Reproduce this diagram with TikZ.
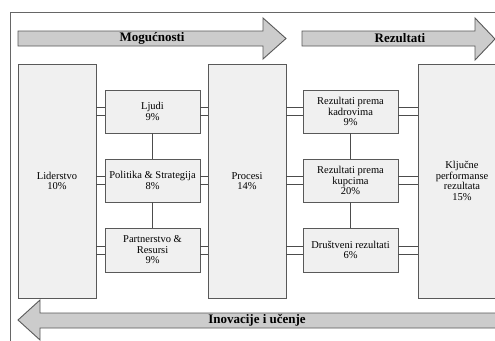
\documentclass[tikz,border=0pt]{standalone}
\usepackage{fontspec}
\setmainfont{Liberation Serif}
\usetikzlibrary{calc}
\begin{document}
\begin{tikzpicture}[x=1pt,y=-1pt,
  box/.style={draw=black!65,line width=0.9pt,fill=black!6,inner sep=0pt,
    font=\fontsize{10.5}{10.5}\selectfont,align=center},
  band/.style={draw=black!65,line width=0.9pt,fill=black!20},
  bandtext/.style={font=\fontsize{13}{15}\selectfont\bfseries},
  pipe/.style={draw=black!70,line width=0.8pt},
  link/.style={draw=black!70,line width=0.8pt}]
\useasboundingbox (0,0) rectangle (495,340);
\clip (0,0) rectangle (495,340);
\fill[white] (0,0) rectangle (495,340);

% outer frame
\draw[draw=black!60,line width=0.8pt] (10,350) -- (10,12) -- (510,12);

% top bands
\draw[band] (18,31) -- (263,31) -- (263,18) -- (286,38.5) -- (263,59) -- (263,46) -- (18,46) -- cycle;
\node[bandtext] (mog) at (152,38) {Mogućnosti};
\draw[band] (302,31) -- (475,31) -- (475,18) -- (495,39) -- (475,60) -- (475,46) -- (302,46) -- cycle;
\node[bandtext] (rez) at (400,38) {Rezultati};

% bottom band
\draw[band] (18,320) -- (40,300) -- (40,313) -- (510,313) -- (510,328) -- (40,328) -- (40,340) -- cycle;
\node[bandtext] (ino) at (257,320) {Inovacije i učenje};

% tall boxes
\node[box,minimum width=78pt,minimum height=234pt] (lid) at (57,181) {Liderstvo\\10\%};
\node[box,minimum width=78pt,minimum height=234pt] (pro) at (247,181) {Procesi\\14\%};
\node[box,minimum width=88pt,minimum height=234pt] (klj) at (462,181) {Ključne\\performanse\\rezultata\\15\%};

% enabler column
\node[box,minimum width=95pt,minimum height=43pt] (lju) at (152.5,111.5) {Ljudi\\9\%};
\node[box,minimum width=95pt,minimum height=43pt] (pol) at (152.5,180.5) {Politika \& Strategija\\8\%};
\node[box,minimum width=95pt,minimum height=44pt] (par) at (152.5,250) {Partnerstvo \&\\Resursi\\9\%};

% results column
\node[box,minimum width=95pt,minimum height=43pt] (rk) at (350.5,111.5) {Rezultati prema\\kadrovima\\9\%};
\node[box,minimum width=95pt,minimum height=43pt] (rku) at (350.5,180.5) {Rezultati prema\\kupcima\\20\%};
\node[box,minimum width=95pt,minimum height=44pt] (dr) at (350.5,250) {Društveni rezultati\\6\%};

% vertical links
\draw[link] (lju.south) -- (pol.north);
\draw[link] (pol.south) -- (par.north);
\draw[link] (rk.south) -- (rku.north);
\draw[link] (rku.south) -- (dr.north);

% double-line couplings between columns
\foreach \a/\b/\c in {lid/lju/lju,lid/pol/pol,lid/par/par,lju/pro/lju,pol/pro/pol,par/pro/par,
                     pro/rk/rk,pro/rku/rku,pro/dr/dr,rk/klj/rk,rku/klj/rku,dr/klj/dr}{
  \draw[pipe] ($(\a.east |- \c.center)+(0,-4)$) -- ($(\b.west |- \c.center)+(0,-4)$);
  \draw[pipe] ($(\a.east |- \c.center)+(0,4)$) -- ($(\b.west |- \c.center)+(0,4)$);
}
\end{tikzpicture}
\end{document}
